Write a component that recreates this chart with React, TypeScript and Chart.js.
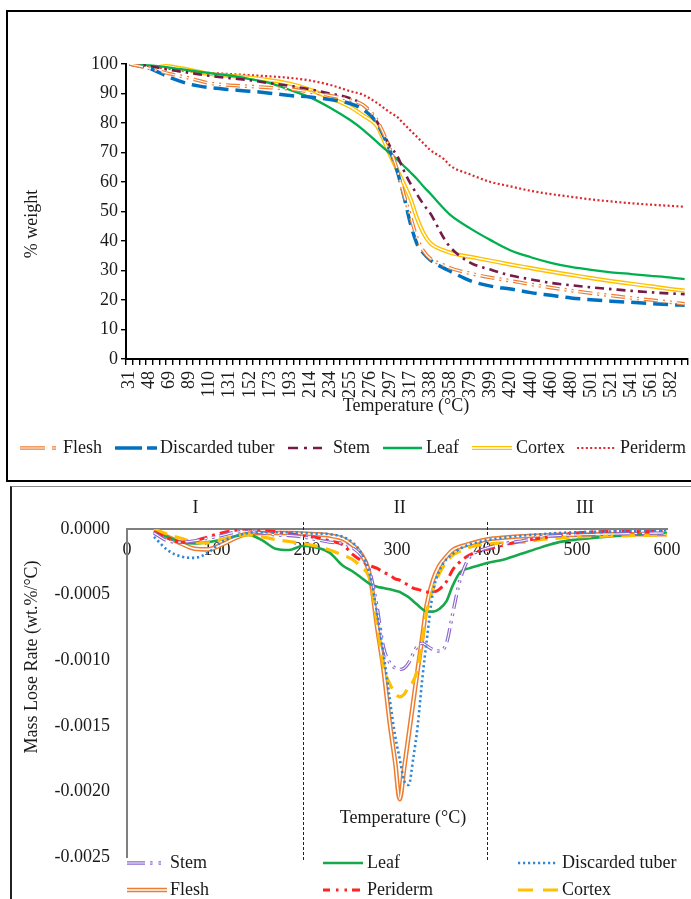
import React, { useEffect, useRef } from 'react';
import { Chart, registerables } from 'chart.js';

Chart.register(...registerables);

const FONT = '"Liberation Serif", "Times New Roman", serif';
const TEXT = '#1a1a1a';

// ---------------- Top panel: TGA (% weight) ----------------
const tgaCategories = [
  31, 37, 42, 48, 55, 62, 69, 76, 82, 89, 96, 103, 110, 117, 124, 131, 138, 145, 152, 159,
  166, 173, 180, 186, 193, 200, 207, 214, 221, 227, 234, 241, 248, 255, 262, 269, 276, 283, 290, 297,
  303, 310, 317, 324, 331, 338, 344, 351, 358, 365, 372, 379, 386, 392, 399, 406, 413, 420, 427, 433,
  440, 447, 453, 460, 467, 473, 480, 487, 494, 501, 507, 514, 521, 528, 534, 541, 548, 555, 561, 568,
  575, 582, 589, 595,
];
const tgaTickLabels = [
  31, 48, 69, 89, 110, 131, 152, 173, 193, 214, 234, 255, 276, 297, 317, 338, 358, 379, 399, 420,
  440, 460, 480, 501, 521, 541, 561, 582,
];
const tgaSampleTemps = [
  31, 48, 69, 89, 110, 131, 152, 173, 193, 214, 234, 255, 269, 283, 297, 303, 310, 317, 324, 331,
  338, 351, 358, 379, 399, 420, 440, 460, 480, 501, 521, 541, 561, 582, 595,
];
const tgaFlesh = [
  100, 98.5, 96.7, 95.2, 93.5, 92.8, 92.4, 92, 91.5, 90.5, 89.3, 87.8, 86, 81, 71, 64.5, 56, 48.5, 41, 36.5,
  34, 31.8, 30.8, 29, 27.6, 26.5, 25.3, 24.2, 23.2, 22.3, 21.5, 20.7, 20, 19.2, 18.7,
];
const tgaDiscarded = [
  100, 98.5, 95.5, 93.2, 92, 91.3, 90.8, 90.1, 89.3, 88.8, 88, 86.6, 84.5, 80, 70.3, 64, 55.5, 46, 39, 35.8,
  33.5, 30.8, 29.7, 26.5, 24.7, 23.7, 22.5, 21.6, 20.7, 20.1, 19.6, 19.2, 18.8, 18.4, 18.2,
];
const tgaStem = [
  100, 99.3, 98, 97, 96, 95.2, 94.5, 93.5, 92.6, 91.4, 90, 88.4, 86, 80.5, 72, 69, 64, 59.5, 55.8, 52.3,
  49.3, 41, 37.8, 32.6, 30.3, 28.3, 27, 25.8, 25, 24.3, 23.7, 23.1, 22.6, 22.2, 22,
];
const tgaLeaf = [
  100, 99.5, 98.8, 97.8, 96.9, 96.1, 94.9, 93.5, 91.2, 88.7, 85.2, 81, 77.6, 73.6, 69.6, 67.7, 65.5, 63.3, 61, 58.4,
  56, 51, 48.8, 44.2, 40.3, 36.8, 34.5, 32.6, 31.2, 30.2, 29.4, 28.8, 28.2, 27.6, 27.1,
];
const tgaCortex = [
  100, 100, 99.2, 98, 96.6, 96, 95.4, 94.5, 93.3, 91.3, 88.5, 85.5, 82.5, 79, 69, 64.3, 59.5, 54.4, 47.7, 42.5,
  39.2, 36.8, 36, 34.6, 33.3, 32, 30.8, 29.6, 28.5, 27.4, 26.4, 25.5, 24.6, 23.7, 23.2,
];
const tgaPeriderm = [
  100, 99.3, 98.3, 97.5, 97, 96.6, 96.2, 95.8, 95.3, 94.4, 92.9, 90.8, 89.5, 86.8, 83.5, 82.1, 79.8, 77.5, 75.3, 73,
  70.8, 67.8, 65.5, 62.5, 60, 58.5, 57, 55.9, 55, 54.1, 53.4, 52.8, 52.3, 51.9, 51.6,
];
const tgaSeriesNames = ['Flesh', 'Discarded tuber', 'Stem', 'Leaf', 'Cortex', 'Periderm'];

// ---------------- Bottom panel: DTG (mass lose rate, x10^-4 wt.%/°C) ----------------
const dtgTemps = [
  30, 45, 60, 75, 90, 105, 120, 135, 150, 165, 180, 195, 210, 225, 240, 250, 260, 270, 278, 285,
  292, 298, 303, 308, 313, 318, 323, 328, 333, 340, 347, 355, 362, 370, 380, 390, 400, 420, 440, 460,
  480, 500, 530, 560, 600,
];
const dtgStem = [
  -0.3, -0.9, -1.0, -0.9, -0.7, -0.5, -0.25, -0.2, -0.3, -0.45, -0.5, -0.6, -0.8, -1.0, -1.1, -1.4, -2.0, -3.3, -6.0, -9.0,
  -10.2, -10.6, -10.7, -10.6, -10.2, -9.5, -8.9, -8.7, -8.9, -9.2, -9.3, -8.7, -6.4, -3.9, -2.2, -1.7, -1.45, -1.1, -0.9, -0.6,
  -0.5, -0.45, -0.4, -0.35, -0.3,
];
const dtgLeaf = [
  -0.1, -0.6, -1.0, -1.1, -1.0, -0.8, -0.55, -0.45, -0.85, -1.5, -1.6, -1.3, -1.4, -1.8, -2.8, -3.2, -3.7, -4.2, -4.4, -4.5,
  -4.6, -4.7, -4.8, -5.0, -5.2, -5.5, -5.8, -6.1, -6.3, -6.3, -6.1, -5.5, -4.3, -3.3, -3.0, -2.8, -2.6, -2.3, -1.85, -1.4,
  -1.0, -0.8, -0.6, -0.45, -0.3,
];
const dtgDiscarded = [
  -0.6, -1.6, -2.1, -2.2, -1.8, -1.0, -0.55, -0.3, -0.25, -0.25, -0.25, -0.3, -0.35, -0.4, -0.6, -1.0, -1.8, -3.5, -6.5, -9.5,
  -13, -15.8, -17.5, -19.2, -19.5, -17.5, -15, -11.5, -8.5, -4.8, -3.2, -2.3, -1.9, -1.5, -1.2, -1.0, -0.85, -0.65, -0.5, -0.4,
  -0.3, -0.25, -0.2, -0.15, -0.1,
];
const dtgFlesh = [
  -0.2, -0.6, -1.1, -1.5, -1.55, -1.2, -0.7, -0.35, -0.3, -0.3, -0.3, -0.35, -0.4, -0.5, -0.75, -1.2, -1.9, -3.6, -7.5, -10.7,
  -14.8, -17.8, -20.6, -18.2, -15.7, -13.2, -10.7, -8.3, -5.8, -3.9, -2.8, -2.1, -1.6, -1.35, -1.15, -0.95, -0.8, -0.65, -0.55, -0.5,
  -0.45, -0.45, -0.4, -0.4, -0.4,
];
const dtgPeriderm = [
  -0.2, -0.7, -1.0, -0.9, -0.6, -0.3, -0.1, 0, -0.1, -0.2, -0.35, -0.5, -0.65, -0.9, -1.2, -1.9, -2.4, -2.8, -3.0, -3.3,
  -3.5, -3.8, -3.9, -4.1, -4.3, -4.5, -4.6, -4.7, -4.8, -4.8, -4.6, -4.0, -3.1, -2.5, -2.0, -1.7, -1.55, -1.2, -0.9, -0.7,
  -0.45, -0.3, -0.2, -0.2, -0.2,
];
const dtgCortex = [
  0, -0.4, -0.7, -1.0, -1.05, -0.8, -0.55, -0.45, -0.6, -0.8, -0.95, -1.1, -1.3, -1.6, -2.0, -2.3, -2.9, -3.9, -7.3, -10.5,
  -11.8, -12.5, -12.8, -12.6, -12, -11.6, -10.6, -8.5, -6.3, -4.6, -3.4, -2.5, -2.0, -1.7, -1.4, -1.25, -1.15, -1.05, -1.0, -0.8,
  -0.7, -0.6, -0.55, -0.5, -0.45,
];
const DTG_UNIT = 1e-4;
const dtgSeriesNames = ['Stem', 'Leaf', 'Discarded tuber', 'Flesh', 'Periderm', 'Cortex'];
const dtgRegionLabels = ['I', 'II', 'III'];
const dtgRegionCenters = [76, 303, 509];
const dtgBoundaries = [195, 400];

// ---------------- styles ----------------
type LineStyle = { color: string; width: number; dash: number[]; inner?: number };

const topStyles: Record<string, LineStyle> = {
  Flesh: { color: '#ED7D31', width: 3.6, dash: [14, 5, 2, 5, 2, 5], inner: 1.2 },
  'Discarded tuber': { color: '#0070C0', width: 3.5, dash: [15, 7] },
  Stem: { color: '#741B47', width: 2.6, dash: [9, 5, 2.5, 5] },
  Leaf: { color: '#00B050', width: 2.3, dash: [] },
  Cortex: { color: '#FFC000', width: 4.2, dash: [], inner: 1.4 },
  Periderm: { color: '#E0262A', width: 2.2, dash: [2, 2.4] },
};

const bottomStyles: Record<string, LineStyle> = {
  Stem: { color: '#8B67CC', width: 3.4, dash: [14, 5, 2.5, 5, 2.5, 5], inner: 1.1 },
  Leaf: { color: '#17A84A', width: 2.6, dash: [] },
  'Discarded tuber': { color: '#2F88D8', width: 2.6, dash: [2.2, 2.8] },
  Flesh: { color: '#ED7D31', width: 4.6, dash: [], inner: 1.6 },
  Periderm: { color: '#FF2323', width: 3, dash: [10, 5, 3, 5] },
  Cortex: { color: '#FFC000', width: 3.2, dash: [14, 8] },
};

function lineDatasets(label: string, points: any[], s: LineStyle) {
  const base: any = {
    label,
    data: points,
    pointRadius: 0,
    pointHoverRadius: 0,
    fill: false,
    cubicInterpolationMode: 'monotone',
    borderCapStyle: 'butt',
    borderJoinStyle: 'round',
    borderDash: s.dash,
  };
  const outer = { ...base, borderColor: s.color, borderWidth: s.width };
  if (!s.inner) return [outer];
  const inner = { ...base, label: label + ' inner', borderColor: '#ffffff', borderWidth: s.inner };
  return [inner, outer];
}

function strokeSample(ctx: CanvasRenderingContext2D, x1: number, x2: number, y: number, s: LineStyle, dash?: number[]) {
  ctx.save();
  ctx.lineCap = 'butt';
  ctx.setLineDash(dash ?? s.dash);
  ctx.strokeStyle = s.color;
  ctx.lineWidth = s.width;
  ctx.beginPath();
  ctx.moveTo(x1, y);
  ctx.lineTo(x2, y);
  ctx.stroke();
  if (s.inner) {
    ctx.strokeStyle = '#ffffff';
    ctx.lineWidth = s.inner;
    ctx.stroke();
  }
  ctx.restore();
}

function fixScale(w?: number, h?: number) {
  return (scale: any) => {
    if (w !== undefined) scale.width = w;
    if (h !== undefined) scale.height = h;
    scale.paddingLeft = 0;
    scale.paddingRight = 0;
    scale.paddingTop = 0;
    scale.paddingBottom = 0;
  };
}

// ---------------- Top chart config ----------------
const topLegendLayout = [
  { x1: 20, x2: 57, tx: 63, dash: [25, 7, 4, 40] },
  { x1: 115, x2: 157, tx: 160, dash: [27, 5, 10, 30] },
  { x1: 288, x2: 322, tx: 333, dash: [10, 6, 3, 6, 10, 30] },
  { x1: 383, x2: 422, tx: 426 },
  { x1: 472, x2: 512, tx: 516 },
  { x1: 577, x2: 615, tx: 620 },
];

function topConfig(): any {
  const seriesValues = [tgaFlesh, tgaDiscarded, tgaStem, tgaLeaf, tgaCortex, tgaPeriderm];
  const datasets: any[] = [];
  tgaSeriesNames.forEach((name, k) => {
    const pts = tgaSampleTemps.map((t, i) => ({ x: String(t), y: seriesValues[k][i] }));
    datasets.push(...lineDatasets(name, pts, topStyles[name]));
  });
  const labelSet = new Set(tgaTickLabels);
  const tickFont = { family: FONT, size: 18 };
  const decor = {
    id: 'topDecor',
    afterDraw(chart: any) {
      const ctx: CanvasRenderingContext2D = chart.ctx;
      ctx.save();
      ctx.fillStyle = TEXT;
      ctx.font = `18px ${FONT}`;
      ctx.textAlign = 'center';
      ctx.textBaseline = 'middle';
      ctx.fillText('Temperature (°C)', 406, 406);
      ctx.save();
      ctx.translate(32, 224);
      ctx.rotate(-Math.PI / 2);
      ctx.fillText('% weight', 0, 0);
      ctx.restore();
      ctx.textAlign = 'left';
      topLegendLayout.forEach((it, i) => {
        const name = tgaSeriesNames[i];
        strokeSample(ctx, it.x1, it.x2, 448, topStyles[name], it.dash);
        ctx.fillStyle = TEXT;
        ctx.fillText(name, it.tx, 448);
      });
      ctx.restore();
    },
  };
  return {
    type: 'line',
    data: { labels: tgaCategories.map(String), datasets },
    options: {
      responsive: false,
      animation: false,
      events: [],
      layout: { padding: { left: 0, top: 64, right: 3, bottom: 0 } },
      plugins: { legend: { display: false }, tooltip: { enabled: false } },
      scales: {
        x: {
          type: 'category',
          offset: true,
          grid: { display: true, drawOnChartArea: false, drawTicks: true, tickLength: 6, color: '#000', lineWidth: 1.4, offset: true },
          border: { display: true, color: '#000', width: 2 },
          ticks: {
            autoSkip: false,
            minRotation: 90,
            maxRotation: 90,
            padding: 6,
            color: TEXT,
            font: tickFont,
            callback: (_v: any, i: number) => (labelSet.has(tgaCategories[i]) ? String(tgaCategories[i]) : ''),
          },
          afterFit: fixScale(undefined, 121),
        },
        y: {
          min: 0,
          max: 100,
          grid: { display: true, drawOnChartArea: false, drawTicks: true, tickLength: 5, color: '#000', lineWidth: 1.4 },
          border: { display: true, color: '#000', width: 2 },
          ticks: { stepSize: 10, padding: 3, color: TEXT, font: tickFont },
          afterFit: fixScale(126, undefined),
        },
      },
    },
    plugins: [decor],
  };
}

// ---------------- Bottom chart config ----------------
const CANVAS2_TOP = 487;
const bottomLegendLayout = [
  { x1: 127, x2: 163, tx: 170, row: 0, dash: [18, 5, 2.5, 6, 2.5, 20] },
  { x1: 323, x2: 363, tx: 367, row: 0 },
  { x1: 518, x2: 558, tx: 562, row: 0 },
  { x1: 127, x2: 167, tx: 170, row: 1 },
  { x1: 323, x2: 360, tx: 367, row: 1, dash: [7, 6, 2.5, 6, 2.5, 5, 12, 20] },
  { x1: 518, x2: 558, tx: 562, row: 1, dash: [15, 10, 15, 20] },
];

function bottomConfig(): any {
  const seriesValues = [dtgStem, dtgLeaf, dtgDiscarded, dtgFlesh, dtgPeriderm, dtgCortex];
  const drawOrder = [2, 0, 4, 5, 1, 3]; // Discarded, Stem, Periderm, Cortex, Leaf, Flesh (first = on top)
  const datasets: any[] = [];
  drawOrder.forEach((k) => {
    const name = dtgSeriesNames[k];
    const pts = dtgTemps.map((t, i) => ({ x: t, y: seriesValues[k][i] * DTG_UNIT }));
    datasets.push(...lineDatasets(name, pts, bottomStyles[name]));
  });
  const tickFont = { family: FONT, size: 18 };
  const decor = {
    id: 'bottomDecor',
    beforeDatasetsDraw(chart: any) {
      const ctx: CanvasRenderingContext2D = chart.ctx;
      const xs = chart.scales.x;
      ctx.save();
      ctx.strokeStyle = '#222';
      ctx.lineWidth = 1;
      ctx.setLineDash([3, 2]);
      dtgBoundaries.forEach((t) => {
        const px = Math.round(xs.getPixelForValue(t)) + 0.5;
        ctx.beginPath();
        ctx.moveTo(px, 35);
        ctx.lineTo(px, 375);
        ctx.stroke();
      });
      ctx.restore();
    },
    afterDraw(chart: any) {
      const ctx: CanvasRenderingContext2D = chart.ctx;
      const xs = chart.scales.x;
      ctx.save();
      ctx.fillStyle = TEXT;
      ctx.font = `18px ${FONT}`;
      ctx.textAlign = 'center';
      ctx.textBaseline = 'middle';
      dtgRegionLabels.forEach((lab, i) => {
        ctx.fillText(lab, xs.getPixelForValue(dtgRegionCenters[i]), 21);
      });
      ctx.fillText('Temperature (°C)', 403, 331);
      ctx.save();
      ctx.translate(32, 170);
      ctx.rotate(-Math.PI / 2);
      ctx.fillText('Mass Lose Rate (wt.%/°C)', 0, 0);
      ctx.restore();
      ctx.textAlign = 'left';
      bottomLegendLayout.forEach((it, i) => {
        const name = dtgSeriesNames[i];
        const y = it.row === 0 ? 376 : 403;
        strokeSample(ctx, it.x1, it.x2, y, bottomStyles[name], it.dash);
        ctx.fillStyle = TEXT;
        ctx.fillText(name, it.tx, y);
      });
      ctx.restore();
    },
  };
  return {
    type: 'line',
    data: { datasets },
    options: {
      responsive: false,
      animation: false,
      events: [],
      layout: { padding: { left: 0, top: 42, right: 24, bottom: 42 } },
      plugins: { legend: { display: false }, tooltip: { enabled: false } },
      scales: {
        x: {
          type: 'linear',
          position: { y: 0 },
          min: 0,
          max: 600,
          grid: { display: false, drawTicks: false },
          border: { display: true, color: '#7f7f7f', width: 2 },
          ticks: { stepSize: 100, padding: 10, color: TEXT, font: tickFont },
          afterFit: fixScale(),
        },
        y: {
          type: 'linear',
          min: -0.0025,
          max: 0,
          grid: { display: false, drawTicks: false },
          border: { display: true, color: '#7f7f7f', width: 2 },
          ticks: {
            stepSize: 0.0005,
            padding: 17,
            color: TEXT,
            font: tickFont,
            callback: (v: any) => Number(v).toFixed(4),
          },
          afterFit: fixScale(127, undefined),
        },
      },
    },
    plugins: [decor],
  };
}

function ChartCanvas(props: { make: () => any; left: number; top: number; width: number; height: number }) {
  const ref = useRef<HTMLCanvasElement>(null);
  useEffect(() => {
    const chart = new Chart(ref.current as HTMLCanvasElement, props.make());
    return () => chart.destroy();
  }, []);
  return (
    <canvas
      ref={ref}
      width={props.width}
      height={props.height}
      style={{ position: 'absolute', left: props.left, top: props.top, width: props.width, height: props.height, display: 'block' }}
    />
  );
}

export default function App() {
  return (
    <div style={{ position: 'absolute', left: 0, top: 0, width: 691, height: 899, overflow: 'hidden', background: '#fff' }}>
      <div
        style={{
          position: 'absolute',
          left: 6,
          top: 10,
          width: 720,
          height: 468,
          borderTop: '2px solid #000',
          borderLeft: '2px solid #000',
          borderBottom: '2px solid #000',
        }}
      />
      <div
        style={{
          position: 'absolute',
          left: 10,
          top: 486,
          width: 720,
          height: 430,
          borderTop: '1.5px solid #8a8a8a',
          borderLeft: '2px solid #222',
        }}
      />
      <ChartCanvas make={topConfig} left={0} top={0} width={691} height={480} />
      <ChartCanvas make={bottomConfig} left={0} top={CANVAS2_TOP} width={691} height={412} />
    </div>
  );
}
